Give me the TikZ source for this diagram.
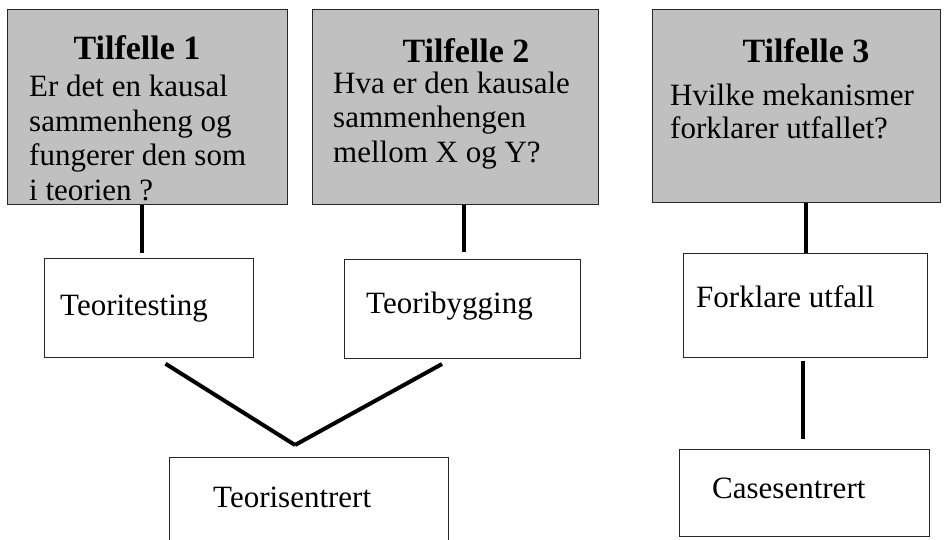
\documentclass[tikz,border=0pt]{standalone}
\usepackage{fontspec}
\setmainfont{Liberation Serif}
\begin{document}
\begin{tikzpicture}[x=1pt,y=-1pt,
  casebox/.style={draw=black!85, line width=1.4pt, fill=casegray, inner sep=0pt, anchor=north west},
  stagebox/.style={draw=black!85, line width=1.4pt, fill=white, inner sep=0pt, anchor=north west},
  title/.style={inner sep=0pt, anchor=base, font=\bfseries\fontsize{34}{38}\selectfont},
  body/.style={inner sep=0pt, anchor=base west, align=left, font=\fontsize{31}{34.5}\selectfont},
  conn/.style={line width=4pt}]
\definecolor{casegray}{RGB}{192,192,192}
\useasboundingbox (0,0) rectangle (950,539);
\fill[white] (0,0) rectangle (950,539);

% question boxes
\node[casebox, minimum width=280pt, minimum height=195pt] (c1) at (7,9) {};
\node[casebox, minimum width=286pt, minimum height=195pt] (c2) at (312,9) {};
\node[casebox, minimum width=288pt, minimum height=193pt] (c3) at (652,9) {};

\node[title] (t1) at (137,59) {Tilfelle 1};
\node[title] (t2) at (466,62) {Tilfelle 2};
\node[title] (t3) at (806,62) {Tilfelle 3};

% multi-line texts are placed by the baseline of their last line
\node[body] (q1) at (29,200) {Er det en kausal\\sammenheng og\\fungerer den som\\i teorien ?};
\node[body] (q2) at (333,162) {Hva er den kausale\\sammenhengen\\mellom X og Y?};
\node[body, font=\fontsize{31}{33}\selectfont] (q3) at (670,138) {Hvilke mekanismer\\forklarer utfallet?};

% approach boxes
\node[stagebox, minimum width=209pt, minimum height=99pt] (tt) at (44,258) {};
\node[stagebox, minimum width=236pt, minimum height=99pt] (tb) at (344,259) {};
\node[stagebox, minimum width=244pt, minimum height=104pt] (fu) at (683,253) {};
\node[body] (ttl) at (60,315) {Teoritesting};
\node[body] (tbl) at (366,313) {Teoribygging};
\node[body] (ful) at (696,307) {Forklare utfall};

% focus boxes
\node[stagebox, minimum width=279pt, minimum height=90pt] (ts) at (169,457) {};
\node[stagebox, minimum width=250pt, minimum height=87pt] (cs) at (679,449) {};
\node[body] (tsl) at (213,507) {Teorisentrert};
\node[body] (csl) at (712,498) {Casesentrert};

% connectors
\coordinate (join) at (295,445);
\draw[conn] (c1.south -| 142,0) -- (142,253);
\draw[conn] (c2.south -| 464,0) -- (464,252);
\draw[conn] (c3.south -| 806,0) -- (fu.north -| 806,0);
\draw[conn, shorten <=10pt] (tt.south -| 157,0) -- (join);
\draw[conn] (join) -- (442,364);
\draw[conn, shorten <=3pt] (fu.south -| 803,0) -- (803,439);
\end{tikzpicture}
\end{document}
